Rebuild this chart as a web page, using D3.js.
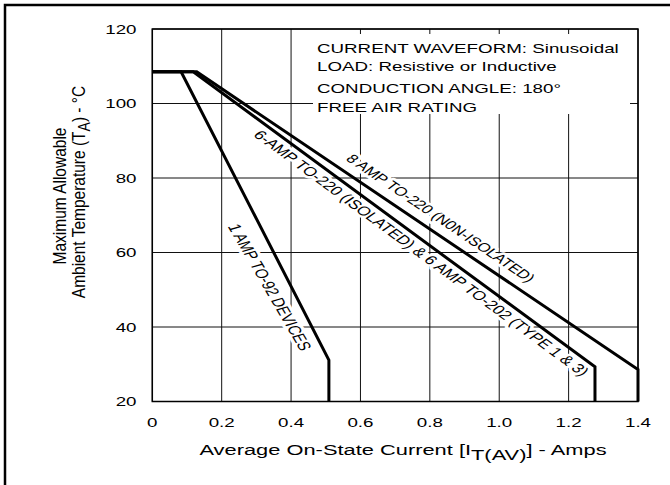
<!DOCTYPE html>
<html>
<head>
<meta charset="utf-8">
<script src="https://cdn.jsdelivr.net/npm/d3@7"></script>
<style>
  html, body { margin: 0; padding: 0; background: #fff; }
  svg { display: block; }
  text { font-family: Arial, "Liberation Sans", Helvetica, sans-serif; fill: #000; }
</style>
</head>
<body>
<svg id="chart" width="670" height="485"></svg>
<script>
// ---- data ----
const xTicks = [0, 0.2, 0.4, 0.6, 0.8, 1.0, 1.2, 1.4];
const xTickLabels = ["0", "0.2", "0.4", "0.6", "0.8", "1.0", "1.2", "1.4"];
const yTicks = [20, 40, 60, 80, 100, 120];
const yTickLabels = ["20", "40", "60", "80", "100", "120"];

const oneAmpX = [0, 0.083, 0.509, 0.509];
const oneAmpY = [108.5, 108.5, 31.1, 20];
const sixAmpX = [0, 0.118, 1.276, 1.276];
const sixAmpY = [108.5, 108.5, 29.3, 20];
const eightAmpX = [0, 0.128, 1.4, 1.4];
const eightAmpY = [108.5, 108.5, 28.6, 20];

const seriesNames = [
  "1 AMP TO-92 DEVICES",
  "6-AMP TO-220 (ISOLATED) & 6 AMP TO-202 (TYPE 1 & 3)",
  "8 AMP TO-220 (N0N-ISOLATED)"
];
const noteLines = [
  "CURRENT WAVEFORM: Sinusoidal",
  "LOAD: Resistive or Inductive",
  "CONDUCTION ANGLE: 180\u00B0",
  "FREE AIR RATING"
];

// ---- chart ----
const SX = 1.41; // horizontal widening of the horizontal lettering in the reference
const SV = 1.2;  // widening of the vertical lettering
const svg = d3.select("#chart");
const x = d3.scaleLinear().domain([0, 1.4]).range([152.3, 638]);
const y = d3.scaleLinear().domain([20, 120]).range([401.5, 29]);

// outer frame (cut at right/bottom)
svg.append("rect").attr("x", 5).attr("y", 5).attr("width", 700).attr("height", 520)
  .attr("fill", "none").attr("stroke", "#000").attr("stroke-width", 2.5);

// grid
const grid = svg.append("g");
grid.selectAll("line.vx").data(xTicks).join("line")
  .attr("x1", d => x(d)).attr("x2", d => x(d))
  .attr("y1", y(20)).attr("y2", y(120))
  .attr("stroke", "#111").attr("stroke-width", 1);
grid.selectAll("line.hy").data(yTicks).join("line")
  .attr("y1", d => y(d)).attr("y2", d => y(d))
  .attr("x1", x(0)).attr("x2", x(1.4))
  .attr("stroke", "#111").attr("stroke-width", 1);

// note white box + text
svg.append("rect").attr("x", 313).attr("y", 34).attr("width", 317).attr("height", 80).attr("fill", "#fff");
const noteBase = [53, 71, 92.5, 111.5];
noteLines.forEach((t, i) => {
  svg.append("text").attr("transform", `translate(317,${noteBase[i]}) scale(${SX},1)`)
    .attr("font-size", 13.3).text(t);
});

// series with label placement (pixel offsets from a point on the sloped segment)
const series = [
  {xs: oneAmpX, ys: oneAmpY, name: seriesNames[0], t: 0.747, ox: -21.6, oy: 0, rot: -2.5, fs: 12.7},
  {xs: sixAmpX, ys: sixAmpY, name: seriesNames[1], t: 0.568, ox: 0, oy: 13.6, rot: 0, fs: 12.7},
  {xs: eightAmpX, ys: eightAmpY, name: seriesNames[2], t: 0.553, ox: 0, oy: -18.2, rot: 0, fs: 12.2}
];

function labelGeom(s) {
  const x1 = x(s.xs[1]), y1 = y(s.ys[1]), x2 = x(s.xs[2]), y2 = y(s.ys[2]);
  const ang = Math.atan2((y2 - y1) * SX, x2 - x1) * 180 / Math.PI + s.rot;
  const px = x1 + (x2 - x1) * s.t + s.ox, py = y1 + (y2 - y1) * s.t + s.oy;
  return {px, py, ang};
}

// label halos (below curves)
series.forEach(s => {
  const g = labelGeom(s);
  svg.append("text")
    .attr("transform", `translate(${g.px},${g.py}) scale(${SX},1) rotate(${g.ang})`)
    .attr("x", 0).attr("y", 0).attr("dy", "0.35em").attr("text-anchor", "middle")
    .attr("font-size", s.fs).attr("fill", "#fff").attr("stroke", "#fff")
    .attr("stroke-width", 5).attr("stroke-linejoin", "round")
    .text(s.name);
});

// plot frame
svg.append("rect").attr("x", x(0)).attr("y", y(120))
  .attr("width", x(1.4) - x(0)).attr("height", y(20) - y(120))
  .attr("fill", "none").attr("stroke", "#000").attr("stroke-width", 1.5);

// curves
const line = d3.line().x(d => x(d[0])).y(d => y(d[1]));
series.forEach(s => {
  const pts = s.xs.map((v, i) => [v, s.ys[i]]);
  svg.append("path").attr("d", line(pts))
    .attr("fill", "none").attr("stroke", "#000").attr("stroke-width", 3)
    .attr("stroke-linejoin", "miter");
});

// labels
series.forEach(s => {
  const g = labelGeom(s);
  svg.append("text")
    .attr("transform", `translate(${g.px},${g.py}) scale(${SX},1) rotate(${g.ang})`)
    .attr("x", 0).attr("y", 0).attr("dy", "0.35em").attr("text-anchor", "middle")
    .attr("font-size", s.fs)
    .text(s.name);
});

// tick labels
xTicks.forEach((d, i) => {
  svg.append("text").attr("transform", `translate(${x(d)},427) scale(${SX},1)`)
    .attr("text-anchor", "middle").attr("font-size", 13.3).text(xTickLabels[i]);
});
yTicks.forEach((d, i) => {
  svg.append("text").attr("transform", `translate(136.5,${y(d) + 4.7}) scale(${SX},1)`)
    .attr("text-anchor", "end").attr("font-size", 13.3).text(yTickLabels[i]);
});

// x title
const xt = svg.append("text").attr("transform", `translate(403,455) scale(${SX},1)`)
  .attr("text-anchor", "middle").attr("font-size", 15.5);
xt.append("tspan").text("Average On-State Current [I");
xt.append("tspan").attr("dy", 5).text("T(AV)");
xt.append("tspan").attr("dy", -5).text("] - Amps");

// y title
svg.append("text").attr("transform", `translate(66,196) scale(${SV},1) rotate(-90)`)
  .attr("text-anchor", "middle").attr("font-size", 15.5).text("Maximum Allowable");
const yt2 = svg.append("text").attr("transform", `translate(85,192) scale(${SV},1) rotate(-90)`)
  .attr("text-anchor", "middle").attr("font-size", 15.5);
yt2.append("tspan").text("Ambient Temperature (T");
yt2.append("tspan").attr("dy", 4).attr("font-size", 14).text("A");
yt2.append("tspan").attr("dy", -4).text(") - \u00B0C");
</script>
</body>
</html>
